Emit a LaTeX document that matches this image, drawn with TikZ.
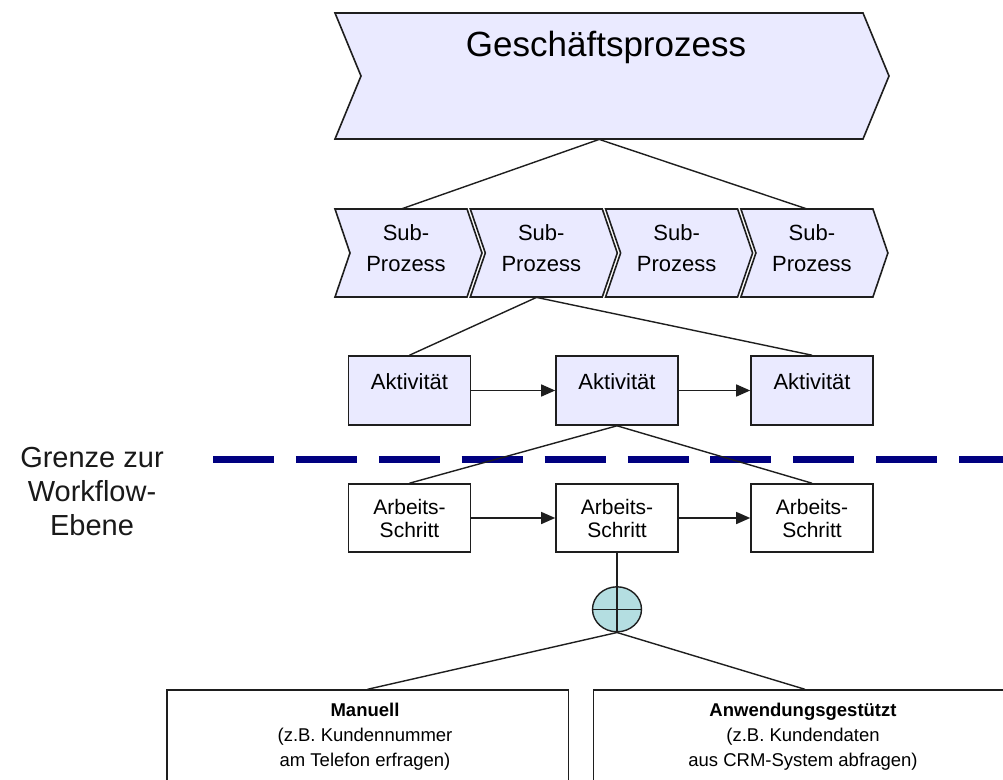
\documentclass[tikz,border=0pt]{standalone}
\usepackage{fontspec}
\setmainfont{Liberation Sans}
\usetikzlibrary{arrows.meta,shapes.geometric}
\definecolor{procfill}{RGB}{234,234,255}
\definecolor{opfill}{RGB}{180,222,225}
\definecolor{navy}{RGB}{0,0,128}
\definecolor{edgecol}{RGB}{30,30,30}
\tikzset{
  chevline/.style={draw=edgecol, line width=1.6pt, fill=procfill, line join=miter},
  body/.style={inner sep=0pt, draw=none},
  lbl/.style={inner sep=0pt, align=center, text=black},
  aktbox/.style={draw=edgecol, line width=1.6pt, fill=procfill, minimum width=122, minimum height=69, inner sep=0pt},
  abbox/.style={draw=edgecol, line width=1.6pt, fill=white, minimum width=122, minimum height=68, inner sep=0pt, align=center, font=\fontsize{21}{23}\selectfont},
  bigbox/.style={draw=edgecol, line width=1.6pt, fill=white, minimum height=120, inner sep=0pt, anchor=north},
  conn/.style={draw=edgecol, line width=1.4pt},
  flow/.style={draw=edgecol, line width=1.4pt, -{Triangle[length=14pt,width=12pt]}},
  bound/.style={draw=navy, line width=7pt, dash pattern=on 61pt off 21.9pt},
  opnode/.style={ellipse, draw=edgecol, line width=1.4pt, fill=opfill, minimum width=49, minimum height=45, inner sep=0pt},
}
\newcommand\chevshape[6]{% left, top, width, height, depth, name
  \draw[chevline] (#1,#2) -- ++(#3,0) -- ++(#5,#4/2) -- ++(-#5,#4/2) -- ++(-#3,0) -- ++(#5,-#4/2) -- cycle;
  \node[body, minimum width=#3, minimum height=#4, anchor=north west] (#6) at (#1,#2) {};
}
\begin{document}
\begin{tikzpicture}[x=1pt,y=-1pt]
\useasboundingbox (0,0) rectangle (1003,779);
\clip (0,0) rectangle (1003,779);
\fill[white] (0,0) rectangle (1003,779);

% Geschaeftsprozess
\chevshape{335}{13}{528}{126}{26}{gp}
\node[lbl, font=\fontsize{35}{40}\selectfont] (gpt) at (606,47.5) {Geschäftsprozess};

% Sub-Prozesse
\chevshape{335}{209}{132}{88}{15}{sp1}
\chevshape{470.3}{209}{132}{88}{15}{sp2}
\chevshape{605.6}{209}{132}{88}{15}{sp3}
\chevshape{740.9}{209}{132}{88}{15}{sp4}
\node[lbl, font=\fontsize{22}{31}\selectfont] (sp1t) at (406,248) {Sub-\\Prozess};
\node[lbl, font=\fontsize{22}{31}\selectfont] (sp2t) at (541.3,248) {Sub-\\Prozess};
\node[lbl, font=\fontsize{22}{31}\selectfont] (sp3t) at (676.6,248) {Sub-\\Prozess};
\node[lbl, font=\fontsize{22}{31}\selectfont] (sp4t) at (811.9,248) {Sub-\\Prozess};

\draw[conn] (gp.south) -- (sp1.north);
\draw[conn] (gp.south) -- (sp4.north);

% Aktivitaeten
\node[aktbox, label={[font=\fontsize{22}{26}\selectfont, yshift=9pt]center:Aktivität}] (a1) at (409.5,390.5) {};
\node[aktbox, label={[font=\fontsize{22}{26}\selectfont, yshift=9pt]center:Aktivität}] (a2) at (617,390.5) {};
\node[aktbox, label={[font=\fontsize{22}{26}\selectfont, yshift=9pt]center:Aktivität}] (a3) at (812,390.5) {};
\draw[conn] (sp2.south) -- (a1.north);
\draw[conn] (sp2.south) -- (a3.north);
\draw[flow] (a1.east) -- (a2.west);
\draw[flow] (a2.east) -- (a3.west);

% Grenze
\coordinate (bs) at (213,459.5);
\coordinate (be) at (1010,459.5);
\draw[bound] (bs) -- (be);
\node[lbl, font=\fontsize{29}{34}\selectfont, text=black!90] (gz) at (92,492) {Grenze zur\\Workflow-\\Ebene};

% Arbeitsschritte
\node[abbox] (b1) at (409.5,518) {Arbeits-\\Schritt};
\node[abbox] (b2) at (617,518) {Arbeits-\\Schritt};
\node[abbox] (b3) at (812,518) {Arbeits-\\Schritt};
\draw[conn] (a2.south) -- (b1.north);
\draw[conn] (a2.south) -- (b3.north);
\draw[flow] (b1.east) -- (b2.west);
\draw[flow] (b2.east) -- (b3.west);

% Operator
\node[opnode] (op) at (617,609.3) {};
\draw[conn] (op.north) -- (op.south);
\draw[conn] (op.west) -- (op.east);
\draw[conn] (b2.south) -- (op.north);

% Ausfuehrung
\node[bigbox, minimum width=401.6] (man) at (367.5,689.3) {};
\node[bigbox, minimum width=423.4] (anw) at (805,689.3) {};
\node[lbl, font=\fontsize{18.5}{25}\selectfont] (mant) at (365,737) {\textbf{Manuell}\\(z.B. Kundennummer\\am Telefon erfragen)};
\node[lbl, font=\fontsize{18.5}{25}\selectfont] (anwt) at (803,737) {\textbf{Anwendungsgestützt}\\(z.B. Kundendaten\\aus CRM-System abfragen)};
\draw[conn] (op.south) -- (man.north);
\draw[conn] (op.south) -- (anw.north);
\end{tikzpicture}
\end{document}
